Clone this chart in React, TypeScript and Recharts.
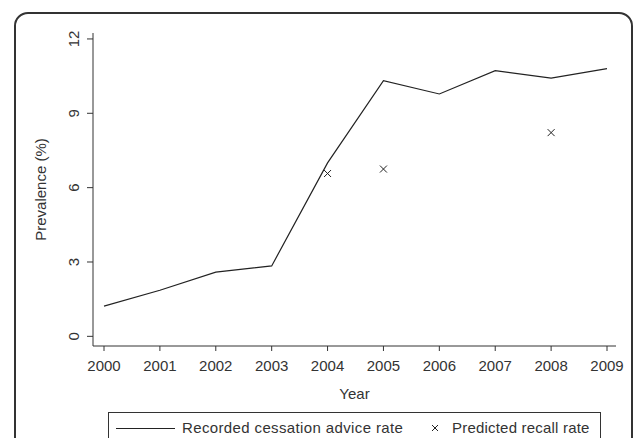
import React from "react";
import { ComposedChart, Line, Scatter, XAxis, YAxis } from "recharts";

const years = [2000, 2001, 2002, 2003, 2004, 2005, 2006, 2007, 2008, 2009];
const recordedRate = [1.22, 1.86, 2.59, 2.84, 7.0, 10.32, 9.78, 10.72, 10.42, 10.8];
const predictedYears = [2004, 2005, 2008];
const predictedRate = [6.57, 6.75, 8.22];
const yTicks = [0, 3, 6, 9, 12];

const recordedName = "Recorded cessation advice rate";
const predictedName = "Predicted recall rate";

const lineData = years.map((year, i) => ({ year, recorded: recordedRate[i] }));
const scatterData = predictedYears.map((year, i) => ({ year, predicted: predictedRate[i] }));

const FONT = '"Liberation Sans", Arial, sans-serif';
const INK = "#333";

function Cross(props: any) {
  const { cx, cy } = props;
  if (cx == null || cy == null) return null;
  const s = 3.5;
  return (
    <g stroke="#222" strokeWidth={1}>
      <line x1={cx - s} y1={cy - s} x2={cx + s} y2={cy + s} />
      <line x1={cx - s} y1={cy + s} x2={cx + s} y2={cy - s} />
    </g>
  );
}

function YTick(props: any) {
  const { x, y, payload } = props;
  const tx = x - 13;
  return (
    <text
      x={tx}
      y={y}
      transform={`rotate(-90, ${tx}, ${y})`}
      textAnchor="middle"
      dominantBaseline="central"
      fontSize={15}
      fontFamily={FONT}
      fill={INK}
    >
      {payload.value}
    </text>
  );
}

export default function App() {
  return (
    <div
      style={{
        position: "absolute",
        left: 0,
        top: 0,
        width: 633,
        height: 438,
        overflow: "hidden",
        background: "#fff",
        fontFamily: FONT,
      }}
    >
      <div
        style={{
          position: "absolute",
          left: 14,
          top: 12,
          width: 619,
          height: 460,
          border: "2px solid #333",
          borderRadius: 14,
          boxSizing: "border-box",
        }}
      />
      <div style={{ position: "absolute", left: 0, top: 0 }}>
        <ComposedChart
          width={633}
          height={438}
          data={lineData}
          margin={{ top: 33, right: 17, bottom: 38, left: 33 }}
        >
          <XAxis
            dataKey="year"
            type="number"
            domain={[1999.803, 2009.161]}
            ticks={years}
            allowDataOverflow
            height={54}
            tickSize={5}
            tickMargin={9}
            stroke={INK}
            tick={{ fontSize: 15, fill: INK, fontFamily: FONT }}
            label={{
              value: "Year",
              position: "insideBottom",
              offset: 1,
              fontSize: 15,
              fill: INK,
              fontFamily: FONT,
            }}
          />
          <YAxis
            type="number"
            domain={[-0.39, 12.24]}
            ticks={yTicks}
            allowDataOverflow
            width={60}
            tickSize={6}
            tickMargin={0}
            stroke={INK}
            tick={<YTick />}
            label={{
              value: "Prevalence (%)",
              angle: -90,
              position: "insideLeft",
              offset: 8,
              style: { textAnchor: "middle" },
              fontSize: 15,
              fill: INK,
              fontFamily: FONT,
            }}
          />
          <Line
            dataKey="recorded"
            name={recordedName}
            type="linear"
            stroke="#222"
            strokeWidth={1.2}
            dot={false}
            isAnimationActive={false}
          />
          <Scatter
            data={scatterData}
            dataKey="predicted"
            name={predictedName}
            shape={<Cross />}
            isAnimationActive={false}
          />
        </ComposedChart>
      </div>
      <div
        style={{
          position: "absolute",
          left: 108,
          top: 412,
          width: 493,
          height: 40,
          border: "1px solid #333",
          boxSizing: "border-box",
          fontSize: 15,
          color: INK,
        }}
      >
        <svg width={491} height={38} style={{ position: "absolute", left: 0, top: 0 }}>
          <line x1={7} y1={15.5} x2={66} y2={15.5} stroke="#222" strokeWidth={1} />
          <g stroke="#222" strokeWidth={1}>
            <line x1={323} y1={12} x2={329} y2={18} />
            <line x1={323} y1={18} x2={329} y2={12} />
          </g>
        </svg>
        <span style={{ position: "absolute", left: 73, top: 6, letterSpacing: 0.37, whiteSpace: "nowrap" }}>
          {recordedName}
        </span>
        <span style={{ position: "absolute", left: 343, top: 6, letterSpacing: 0.2, whiteSpace: "nowrap" }}>
          {predictedName}
        </span>
      </div>
    </div>
  );
}
